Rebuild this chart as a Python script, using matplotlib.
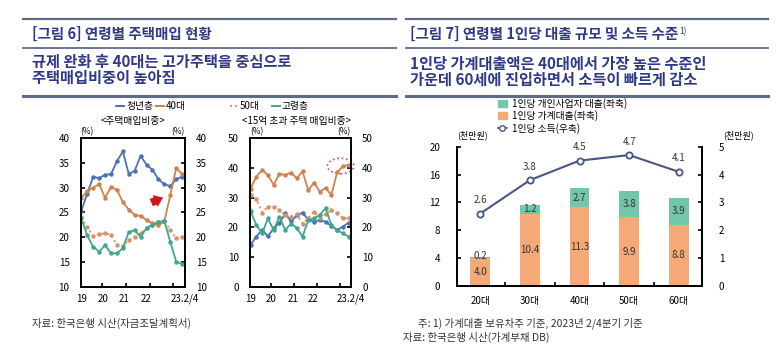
import numpy as np
import matplotlib
matplotlib.use('Agg')
import matplotlib.pyplot as plt
from matplotlib.lines import Line2D
from matplotlib.patches import Patch, Ellipse

plt.rcParams['font.family'] = ['Noto Sans CJK KR', 'DejaVu Sans']

# ---------------- data: [그림 6] ----------------
quarters = ['19.1/4', '19.2/4', '19.3/4', '19.4/4', '20.1/4', '20.2/4', '20.3/4', '20.4/4',
            '21.1/4', '21.2/4', '21.3/4', '21.4/4', '22.1/4', '22.2/4', '22.3/4', '22.4/4',
            '23.1/4', '23.2/4']
year_labels = ['19', '20', '21', '22', '23.2/4']

# 주택매입비중 (%)
share_young = [25.3, 28.8, 32.2, 31.9, 32.6, 32.7, 35.3, 37.3, 32.8, 33.4, 36.4, 34.6,
               33.6, 31.7, 30.7, 30.3, 31.7, 32.2]
share_40s = [27.9, 29.3, 30.0, 30.7, 28.0, 30.1, 29.6, 27.1, 25.6, 24.5, 24.3, 23.5,
             22.8, 22.4, 23.2, 28.5, 33.9, 32.8]
share_50s = [24.0, 22.0, 20.3, 20.6, 20.8, 20.5, 18.5, 18.2, 19.5, 20.0, 20.8, 21.8,
             22.5, 23.0, 23.3, 21.5, 19.8, 20.0]
share_old = [23.8, 20.4, 18.1, 17.1, 18.4, 16.8, 16.8, 17.8, 21.1, 21.4, 20.1, 21.9,
             22.5, 23.1, 23.3, 19.1, 15.1, 14.7]

# 15억 초과 주택 매입비중 (%)
high_young = [14.2, 16.9, 19.2, 17.0, 19.7, 21.5, 24.7, 22.0, 24.0, 25.0, 22.5, 21.9,
              22.5, 21.9, 20.5, 19.1, 20.3, 21.6]
high_40s = [33.0, 37.0, 39.3, 37.5, 34.3, 38.0, 37.6, 38.4, 36.5, 38.8, 32.5, 35.0,
            32.0, 33.2, 30.9, 38.5, 40.5, 41.0]
high_50s = [31.0, 29.5, 25.0, 27.0, 27.0, 25.8, 24.2, 23.6, 24.5, 21.3, 23.0, 25.3,
            23.3, 24.5, 25.8, 24.7, 23.2, 23.0]
high_old = [25.5, 20.8, 18.0, 23.0, 19.1, 23.6, 19.1, 21.3, 19.8, 16.9, 22.5, 23.0,
            24.2, 26.4, 20.8, 19.1, 18.0, 16.9]

# ---------------- data: [그림 7] ----------------
ages = ['20대', '30대', '40대', '50대', '60대']
household_loan = [4.0, 10.4, 11.3, 9.9, 8.8]
business_loan = [0.2, 1.2, 2.7, 3.8, 3.9]
income = [2.6, 3.8, 4.5, 4.7, 4.1]

NAVY = '#2E3A86'
RULE = '#5E6A86'
C_YOUNG = '#4E70B6'
C_40 = '#CF8150'
C_50 = '#D8926A'
C_OLD = '#3EA88C'
C_HH = '#F4A977'
C_BIZ = '#72C7A9'
C_INC = '#4A5686'

W, H = 781, 361
fig = plt.figure(figsize=(W / 100, H / 100), dpi=100)


def fx(px):
    return px / W


def fy(py):
    return 1 - py / H


def rule(x0, x1, y, lw):
    fig.add_artist(Line2D([fx(x0), fx(x1)], [fy(y), fy(y)], color=RULE, lw=lw))


def header(px, py, s, size=10.5):
    return fig.text(fx(px), fy(py), s, color=NAVY, fontsize=size, fontweight='bold',
                    va='center', ha='left')


# ---- headers ----
for x0, x1 in [(23, 396), (406, 768)]:
    rule(x0, x1, 19, 1.6)
    rule(x0, x1, 48, 1.3)
    rule(x0, x1, 96, 2.2)

header(32, 34, '[그림 6] 연령별 주택매입 현황')
header(32, 62, '규제 완화 후 40대는 고가주택을 중심으로', 11)
header(32, 78, '주택매입비중이 높아짐', 11)
t7 = header(410, 34, '[그림 7] 연령별 1인당 대출 규모 및 소득 수준')
header(410, 64, '1인당 가계대출액은 40대에서 가장 높은 수준인', 11)
header(410, 80, '가운데 60세에 진입하면서 소득이 빠르게 감소', 11)

# ---- left charts ----
x = np.arange(len(quarters))
ax1 = fig.add_axes([fx(80.7), fy(287), fx(184.5) - fx(80.7), fy(138) - fy(287)])
ax2 = fig.add_axes([fx(250), fy(287), fx(351) - fx(250), fy(138) - fy(287)])

series1 = [(share_young, C_YOUNG, '-'), (share_40s, C_40, '-'),
           (share_50s, C_50, ':'), (share_old, C_OLD, '-')]
series2 = [(high_young, C_YOUNG, '-'), (high_40s, C_40, '-'),
           (high_50s, C_50, ':'), (high_old, C_OLD, '-')]

for ax, series, ylim, step in [(ax1, series1, (10, 40), 5), (ax2, series2, (0, 50), 10)]:
    for vals, col, ls in series:
        ax.plot(x, vals, color=col, ls=ls, lw=1.3 if ls == '-' else 1.4,
                marker='o', ms=2.2, mec=col, mfc=col)
    ax.set_xlim(-0.1, 17.1)
    ax.set_ylim(*ylim)
    ax.set_yticks(np.arange(ylim[0], ylim[1] + 1, step))
    ax.tick_params(axis='y', direction='in', length=3, width=1.2, left=True, right=True,
                   labelleft=True, labelright=True, labelsize=7, pad=8, colors='black')
    ax.set_xticks([0, 3.6, 7.3, 10.9, 17.4])
    ax.set_xticklabels(year_labels)
    ax.tick_params(axis='x', length=0, labelsize=7, pad=5)
    ax.set_xticks([3.5, 7.5, 11.5, 15.5], minor=True)
    ax.tick_params(axis='x', which='minor', direction='in', length=3, width=1.2)
    for sp in ax.spines.values():
        sp.set_linewidth(1.4)
    ax.text(0.0, 1.01, '(%)', transform=ax.transAxes, fontsize=6, ha='left', va='bottom')
    ax.text(1.0, 1.01, '(%)', transform=ax.transAxes, fontsize=6, ha='right', va='bottom')

# red arrow and dotted highlight
ax1.annotate('', xy=(13.8, 28.0), xytext=(11.8, 27.0),
             arrowprops=dict(arrowstyle='simple,head_width=1.3,head_length=0.9,tail_width=0.8',
                             mutation_scale=7, color='#D41515', lw=0, shrinkA=0, shrinkB=0))
ax2.add_patch(Ellipse((15.6, 40.6), 4.6, 5.2, fill=False, ec='#D05060', ls=':', lw=1.2,
                      clip_on=False))

fig.text(fx(133), fy(121), '<주택매입비중>', fontsize=7, ha='center', va='center')
fig.text(fx(296), fy(121), '<15억 초과 주택 매입비중>', fontsize=7, ha='center', va='center')

# manual legend for the left charts
legend_items = [(116, '청년층', C_YOUNG, '-'), (156, '40대', C_40, '-'),
                (230, '50대', C_50, ':'), (272, '고령층', C_OLD, '-')]
for px, lab, col, ls in legend_items:
    fig.add_artist(Line2D([fx(px), fx(px + 8)], [fy(106), fy(106)], color=col, ls=ls, lw=1.4))
    fig.text(fx(px + 10), fy(106), lab, fontsize=7, ha='left', va='center')

fig.text(fx(32), fy(323), '자료: 한국은행 시산(자금조달계획서)', fontsize=7.5, color='#333333',
         ha='left', va='center')

# ---- right chart ----
ax3 = fig.add_axes([fx(457), fy(286), fx(702) - fx(457), fy(146.7) - fy(286)])
pos = np.arange(len(ages))
ax3.bar(pos, household_loan, width=0.4, color=C_HH, zorder=2)
ax3.bar(pos, business_loan, width=0.4, bottom=household_loan, color=C_BIZ, zorder=2)
for p, hh, bz in zip(pos, household_loan, business_loan):
    ax3.text(p, hh / 2, f'{hh:.1f}', ha='center', va='center', fontsize=7, color='#333333', zorder=3)
    ax3.text(p, hh + bz / 2 + (0.15 if bz < 1 else 0), f'{bz:.1f}', ha='center', va='center',
             fontsize=7, color='#333333', zorder=3)
ax3.set_xlim(-0.47, 4.47)
ax3.set_ylim(0, 20)
ax3.set_yticks(np.arange(0, 21, 4))
ax3.set_xticks(pos)
ax3.set_xticklabels(ages)
ax3.tick_params(axis='x', length=0, labelsize=7, pad=7)
ax3.set_xticks([0.5, 1.5, 2.5, 3.5], minor=True)
ax3.tick_params(axis='x', which='minor', direction='in', length=3, width=1.2)
ax3.tick_params(axis='y', direction='in', length=3, width=1.2, labelsize=7, pad=12)
ax3.spines['top'].set_visible(False)

# superscript note mark on the title of [그림 7]
ax3.annotate('1)', xy=(1.0, 1.0), xycoords=t7, xytext=(1, -1), textcoords='offset points',
             fontsize=6, color=NAVY, va='top', ha='left', annotation_clip=False)

ax4 = ax3.twinx()
ax4.plot(pos, income, color=C_INC, lw=1.5, marker='o', ms=4.5, mfc='white', mec=C_INC, mew=1.3,
         zorder=4)
for p, v in zip(pos, income):
    ax4.annotate(f'{v:.1f}', (p, v), xytext=(0, 6), textcoords='offset points', ha='center',
                 va='bottom', fontsize=7, color='#333333')
ax4.set_ylim(0, 5)
ax4.set_yticks(np.arange(0, 6, 1))
ax4.tick_params(axis='y', direction='in', length=3, width=1.2, labelsize=7, pad=12)
ax4.spines['top'].set_visible(False)
for a in (ax3, ax4):
    for sp in ('left', 'right', 'bottom'):
        a.spines[sp].set_linewidth(1.4)

fig.text(fx(472), fy(135), '(천만원)', fontsize=6.5, ha='center', va='center')
fig.text(fx(739), fy(135), '(천만원)', fontsize=6.5, ha='center', va='center')

handles = [Patch(color=C_BIZ), Patch(color=C_HH),
           Line2D([], [], color=C_INC, marker='o', mfc='white', mec=C_INC, ms=4, lw=1.2)]
labels = ['1인당 개인사업자 대출(좌축)', '1인당 가계대출(좌축)', '1인당 소득(우축)']
fig.legend(handles, labels, loc='upper left', bbox_to_anchor=(fx(498), fy(98)), frameon=False,
           fontsize=7, handlelength=0.9, handleheight=0.7, handletextpad=0.5, labelspacing=0.15,
           borderpad=0, borderaxespad=0)

fig.text(fx(418), fy(323), '주: 1) 가계대출 보유차주 기준, 2023년 2/4분기 기준', fontsize=7.5,
         color='#333333', ha='left', va='center')
fig.text(fx(403), fy(337), '자료: 한국은행 시산(가계부채 DB)', fontsize=7.5, color='#333333',
         ha='left', va='center')

fig.savefig('out.png', dpi=100)
